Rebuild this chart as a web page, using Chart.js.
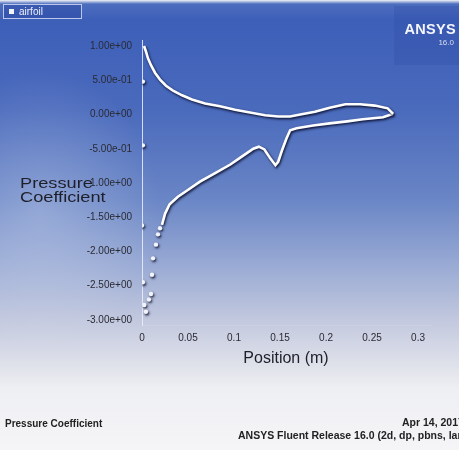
<!DOCTYPE html>
<html><head><meta charset="utf-8">
<script src="https://cdn.jsdelivr.net/npm/chart.js@4/dist/chart.umd.min.js"></script>
<style>
html,body{margin:0;padding:0;width:459px;height:450px;overflow:hidden;background:#f4f4f6;}
#wrap{position:relative;width:459px;height:450px;overflow:hidden;
background:linear-gradient(to bottom,#f2f3f7 0px,#4d6dbe 4px,#3d5fb8 20px,#4a6abc 110px,#6a86c6 200px,#95a7d3 260px,#c2c8de 320px,#dfe1ea 365px,#eeeff3 388px,#f5f5f7 450px);
font-family:"Liberation Sans",Arial,sans-serif;}
#glow{position:absolute;left:0;top:0;width:459px;height:450px;background:radial-gradient(ellipse 120px 140px at 40px 210px,rgba(235,240,250,0.28),rgba(235,240,250,0) 100%);}
#c{position:absolute;left:0;top:0;}
#legendBox{position:absolute;left:3px;top:4px;width:77px;height:13px;border:1px solid rgba(210,220,245,0.85);background:rgba(45,75,165,0.55);}
#legendBox .sq{position:absolute;left:5px;top:4px;width:5px;height:5px;background:#f2f4fb;}
#legendBox .tx{position:absolute;left:15px;top:0px;font-size:10px;line-height:13px;color:#eef1fa;}
#logo{position:absolute;left:394px;top:6px;width:65px;height:59px;background:rgba(40,70,160,0.22);}
#logo .a{position:absolute;right:3px;top:15px;font-size:14.5px;font-weight:bold;color:#f4f6fc;letter-spacing:0.3px;}
#logo .b{position:absolute;right:5px;top:32px;font-size:8px;color:#d8def0;}
#ytitle{position:absolute;left:20px;top:176px;font-size:14px;line-height:14px;color:#1f1f2a;transform:scaleX(1.3);transform-origin:left top;}
#ftL{position:absolute;left:5px;top:418px;font-size:10px;font-weight:bold;color:#222;white-space:nowrap;}
#ftR1{position:absolute;left:402px;top:416px;font-size:10.5px;font-weight:bold;color:#222;white-space:nowrap;}
#ftR2{position:absolute;left:238px;top:429px;font-size:10.5px;font-weight:bold;color:#222;white-space:nowrap;}
</style></head>
<body>
<div id="wrap">
<div id="glow"></div>
<canvas id="c" width="459" height="450"></canvas>
<div id="legendBox"><div class="sq"></div><div class="tx">airfoil</div></div>
<div id="logo"><div class="a">ANSYS</div><div class="b">16.0</div></div>
<div id="ytitle">Pressure<br>Coefficient</div>
<div id="ftL">Pressure Coefficient</div>
<div id="ftR1">Apr 14, 2017</div>
<div id="ftR2">ANSYS Fluent Release 16.0 (2d, dp, pbns, lam)</div>
</div>
<script>
// Axis ticks
const xTicks = [0, 0.05, 0.1, 0.15, 0.2, 0.25, 0.3];
const yTicks = [1, 0.5, 0, -0.5, -1, -1.5, -2, -2.5, -3];

// Upper surface (position m, pressure coefficient)
const upperX = [0.0022,0.0043,0.0065,0.0098,0.0141,0.0196,0.0261,0.0337,0.0435,0.0543,0.0685,0.0848,0.1011,0.1174,0.1337,0.148,0.161,0.172,0.188,0.204,0.221,0.237,0.253,0.267,0.273];
const upperY = [1.0,0.92,0.82,0.72,0.61,0.51,0.42,0.35,0.28,0.22,0.16,0.12,0.07,0.03,-0.01,-0.03,-0.03,0.0,0.04,0.10,0.15,0.15,0.13,0.09,0.01];

// Lower surface, continuous part
const lowerX = [0.0217,0.025,0.030,0.039,0.049,0.063,0.079,0.096,0.110,0.121,0.127,0.133,0.139,0.145,0.148,0.152,0.157,0.161,0.168,0.186,0.204,0.223,0.240,0.262,0.273];
const lowerY = [-1.61,-1.45,-1.31,-1.20,-1.11,-0.98,-0.86,-0.73,-0.60,-0.50,-0.47,-0.51,-0.63,-0.74,-0.69,-0.53,-0.35,-0.23,-0.20,-0.16,-0.13,-0.10,-0.07,-0.04,0.01];

// Leading-edge scattered points
const leX = [0.0010,0.0010,0.0000,0.0010,0.0025,0.0043,0.0076,0.0098,0.0109,0.0120,0.0152,0.0174,0.0196];
const leY = [0.48,-0.45,-1.62,-2.45,-2.78,-2.88,-2.70,-2.62,-2.34,-2.10,-1.90,-1.75,-1.66];

const pts = (xs, ys) => xs.map((x, i) => ({x: x, y: ys[i]}));
function fmt(v){
  let s = Number(v).toExponential(2);
  let [m, e] = s.split('e');
  let sign = e[0];
  let d = e.slice(1);
  if (d.length < 2) d = '0' + d;
  return m + 'e' + sign + d;
}
const shadow = {
  id: 'shadow',
  beforeDatasetDraw(chart){ const c = chart.ctx; c.save(); c.shadowColor='rgba(5,8,35,0.95)'; c.shadowBlur=2.5; c.shadowOffsetX=1; c.shadowOffsetY=1.4; },
  afterDatasetDraw(chart){ chart.ctx.restore(); }
};
const FONT = '"Liberation Sans", Arial, sans-serif';
new Chart(document.getElementById('c'), {
  type: 'scatter',
  data: { datasets: [
    { label: 'airfoil', data: pts(upperX, upperY), showLine: true, borderColor: '#ffffff', borderWidth: 2.6, pointRadius: 0, tension: 0 },
    { label: 'airfoil lower', data: pts(lowerX, lowerY), showLine: true, borderColor: '#ffffff', borderWidth: 2.6, pointRadius: 0, tension: 0 },
    { label: 'airfoil LE', data: pts(leX, leY), showLine: false, pointRadius: 2.2, backgroundColor: '#f2f5ff', borderWidth: 0 }
  ]},
  options: {
    responsive: false, animation: false,
    layout: { padding: { left: 0, right: 29, top: 40, bottom: 80 } },
    plugins: { legend: { display: false }, tooltip: { enabled: false } },
    scales: {
      x: {
        type: 'linear', min: 0, max: 0.313,
        afterBuildTicks: s => { s.ticks = xTicks.map(v => ({value: v})); },
        afterFit: s => { s.height = 45; },
        grid: { display: false, drawTicks: false },
        border: { color: 'rgba(205,210,228,0.75)', dash: [2, 2] },
        ticks: { padding: 7, color: '#2a2a33', font: { size: 10, family: FONT }, callback: v => String(v) },
        title: { display: true, text: 'Position (m)', color: '#1f1f2a', font: { size: 16, family: FONT }, padding: { top: 0, bottom: 2 } }
      },
      y: {
        type: 'linear', min: -3.073, max: 1.0876,
        afterBuildTicks: s => { s.ticks = yTicks.map(v => ({value: v})); },
        afterFit: s => { s.width = 142; },
        grid: { display: false, drawTicks: false },
        border: { color: 'rgba(235,240,252,0.85)' },
        ticks: { padding: 10, color: '#2a2a33', font: { size: 10, family: FONT }, callback: v => fmt(v) }
      }
    }
  },
  plugins: [shadow]
});
</script>
</body></html>
